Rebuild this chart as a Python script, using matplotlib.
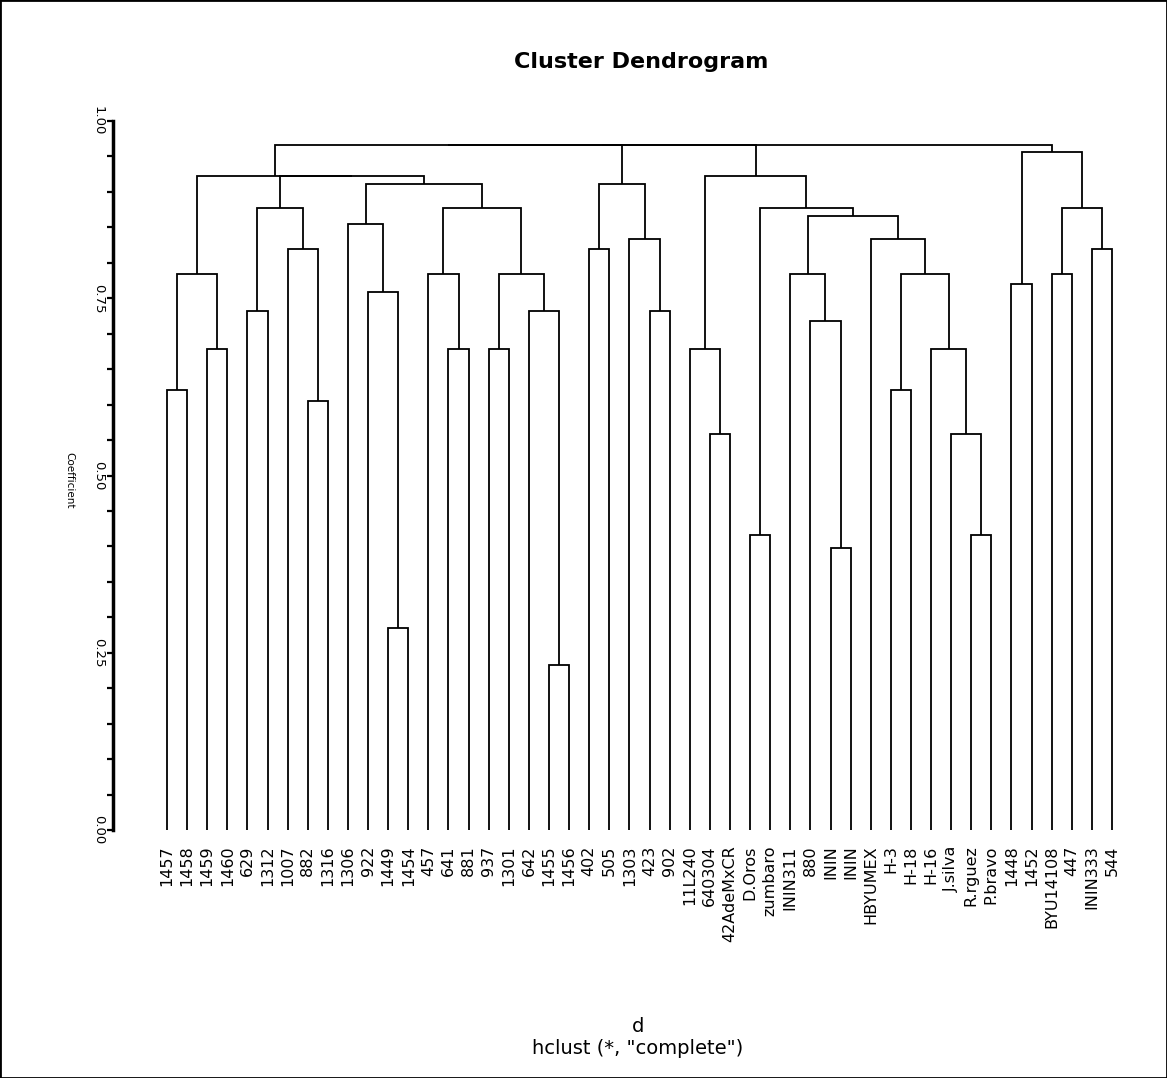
import numpy as np
import matplotlib
matplotlib.use("Agg")
import matplotlib.pyplot as plt
from matplotlib.patches import Rectangle

# ---------------- data ----------------
leaf_labels = ["1457", "1458", "1459", "1460", "629", "1312", "1007", "882", "1316", "1306",
               "922", "1449", "1454", "457", "641", "881", "937", "1301", "642", "1455",
               "1456", "402", "505", "1303", "423", "902", "11L240", "640304", "42AdeMxCR", "D.Oros",
               "zumbaro", "ININ311", "880", "ININ", "ININ", "HBYUMEX", "H-3", "H-18", "H-16", "J.silva",
               "R.rguez", "P.bravo", "1448", "1452", "BYU14108", "447", "ININ333", "544"]

# merges in scipy-like convention: indices < 48 are leaves, >= 48 are earlier merges
merge_left = [11, 19, 33, 29, 40, 27, 39, 7, 0, 36,
              2, 14, 16, 26, 38, 32, 4, 18, 24, 10,
              42, 56, 13, 60, 31, 57, 44, 6, 21, 46,
              23, 35, 9, 72, 64, 70, 51, 74, 80, 76,
              82, 69, 61, 68, 89, 92, 93]
merge_right = [12, 20, 34, 30, 41, 28, 52, 8, 1, 37,
               3, 15, 17, 53, 54, 50, 5, 49, 25, 48,
               43, 58, 59, 65, 63, 62, 45, 55, 22, 47,
               66, 73, 67, 79, 75, 71, 81, 77, 83, 78,
               86, 88, 84, 85, 87, 90, 91]
merge_height = [0.285, 0.233, 0.398, 0.416, 0.416, 0.559, 0.559, 0.605, 0.621, 0.621,
                0.678, 0.678, 0.678, 0.678, 0.678, 0.718, 0.732, 0.732, 0.732, 0.759,
                0.770, 0.784, 0.784, 0.784, 0.784, 0.784, 0.784, 0.819, 0.819, 0.819,
                0.834, 0.834, 0.855, 0.866, 0.877, 0.877, 0.877, 0.877, 0.911, 0.911,
                0.922, 0.922, 0.922, 0.956, 0.966, 0.966, 0.966]

y_tick_values = [0.00, 0.25, 0.50, 0.75, 1.00]
y_tick_labels = ["0.00", "0.25", "0.50", "0.75", "1.00"]

# ---------------- figure ----------------
W, H = 1167, 1078
fig = plt.figure(figsize=(W / 100, H / 100), dpi=100)
fig.patch.set_facecolor("white")

ax_left_px, ax_right_px = 113, 1140
ax_top_px, ax_bot_px = 121, 830
ax = fig.add_axes([ax_left_px / W, (H - ax_bot_px) / H,
                   (ax_right_px - ax_left_px) / W, (ax_bot_px - ax_top_px) / H])

n = len(leaf_labels)
xpos = list(np.arange(n, dtype=float))
hpos = [0.0] * n
for a, b, h in zip(merge_left, merge_right, merge_height):
    xa, xb = xpos[a], xpos[b]
    ha, hb = hpos[a], hpos[b]
    ax.plot([xa, xa, xb, xb], [ha, h, h, hb], color="black", lw=1.3,
            solid_joinstyle="miter", solid_capstyle="butt", clip_on=False)
    xpos.append((xa + xb) / 2.0)
    hpos.append(h)

unit = (1112 - 167) / (n - 1)
ax.set_xlim(-(167 - ax_left_px) / unit, (n - 1) + (ax_right_px - 1112) / unit)
ax.set_ylim(0, 1.0)

for s in ["top", "right", "bottom"]:
    ax.spines[s].set_visible(False)
ax.spines["left"].set_linewidth(2.5)
ax.spines["left"].set_bounds(0, 1.0)

ax.set_yticks(y_tick_values)
ax.set_yticklabels(y_tick_labels, rotation=-90, va="center", ha="right",
                   fontsize=9.5, family="DejaVu Sans")
ax.set_yticks(np.arange(0, 1.0001, 0.05), minor=True)
ax.tick_params(axis="y", which="both", length=4, width=1.6, direction="out", pad=2)

ax.set_xticks(np.arange(n))
ax.set_xticklabels(leaf_labels, rotation=90, fontsize=11.5, family="DejaVu Sans")
ax.tick_params(axis="x", length=0, pad=11)
ax.patch.set_alpha(0)

fig.text(69 / W, 1 - 480 / H, "Coefficient", rotation=-90, ha="center", va="center",
         fontsize=7.5, family="DejaVu Sans")
fig.text(641 / W, 1 - 62 / H, "Cluster Dendrogram", ha="center", va="center",
         fontsize=16, fontweight="bold", family="DejaVu Sans")
fig.text(638 / W, 1 - 1026 / H, "d", ha="center", va="center", fontsize=14,
         family="DejaVu Sans")
fig.text(638 / W, 1 - 1049 / H, 'hclust (*, "complete")', ha="center", va="center",
         fontsize=14, family="DejaVu Sans")

fig.patches.append(Rectangle((0, 0), 1, 1, transform=fig.transFigure, fill=False,
                             edgecolor="black", linewidth=2, zorder=10))

fig.savefig("out.png", dpi=100, facecolor="white")
